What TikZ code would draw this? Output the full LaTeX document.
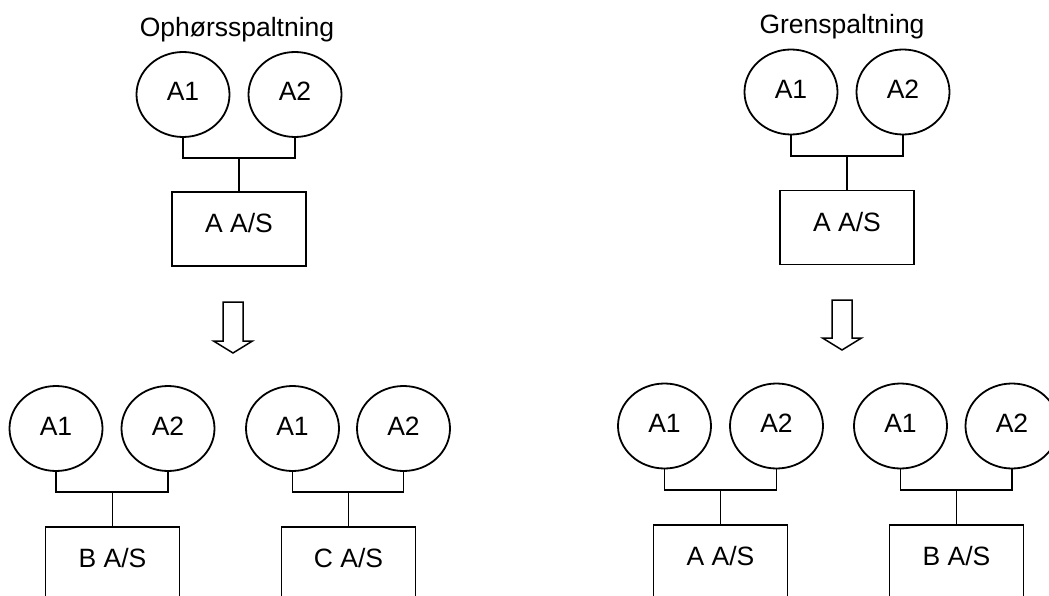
\documentclass[tikz,border=0pt]{standalone}
\usepackage{fontspec}
\setmainfont{Liberation Sans}
\usetikzlibrary{shapes.geometric}

% One ownership group: two owners (A1, A2) joined by a bus to one company box.
% #1 prefix, #2 x of A1, #3 x of A2, #4 y of owners, #5 y of bus,
% #6 x of company, #7 y of company, #8 company label
\newcommand{\ownergroup}[8]{%
  \node[owner] (#1a) at (#2,#4) {A1};
  \node[owner] (#1b) at (#3,#4) {A2};
  \node[firm]  (#1c) at (#6,#7) {#8};
  \coordinate (#1j) at (#6,#5);
  \draw[link] (#1a.south) |- (#1j) -| (#1b.south);
  \draw[link] (#1j) -- (#1c.north);
}

% Hollow block arrow pointing down.
% #1 name, #2 x of axis, #3 top of stem, #4 y of head base, #5 y of tip
\newcommand{\downarrowblock}[5]{%
  \coordinate (#1) at (#2,#3);
  \draw[blockarrow] (#1) ++(-10,0) -- (#2+10,#3) -- (#2+10,#4) -- (#2+19.5,#4)
    -- (#2,#5) -- (#2-19.5,#4) -- (#2-10,#4) -- cycle;
}

\begin{document}
\begin{tikzpicture}[x=1pt,y=-1pt,
  owner/.style={draw, ellipse, line width=1.8pt, minimum width=93pt,
    minimum height=85pt, inner sep=0pt, font=\fontsize{26.5}{31}\selectfont,
    text height=19pt, text depth=6pt},
  firm/.style={draw, rectangle, line width=1.8pt, minimum width=134pt,
    minimum height=74pt, inner sep=0pt, font=\fontsize{26.5}{31}\selectfont,
    text height=19pt, text depth=12pt},
  link/.style={line width=1.8pt},
  heading/.style={font=\fontsize{26.5}{31}\selectfont, anchor=base, inner sep=0pt},
  blockarrow/.style={draw, line width=1.5pt, line join=miter}
]
\path[use as bounding box] (0,0) rectangle (1049,596);
\clip (0,0) rectangle (1049,596);

% Left side: Ophørsspaltning
\node[heading] (tl) at (237,37) {Ophørsspaltning};
\ownergroup{L}{183}{295}{94.5}{158}{239}{229}{A A/S}
\downarrowblock{Larr}{233}{302}{341}{353}
\ownergroup{LB}{56}{168}{428.5}{492}{112.5}{564}{B A/S}
\ownergroup{LC}{292.5}{403.5}{428.5}{492}{348.5}{564}{C A/S}

% Right side: Grenspaltning
\node[heading] (tr) at (842,34) {Grenspaltning};
\ownergroup{R}{791}{903}{92}{156}{847}{227.5}{A A/S}
\downarrowblock{Rarr}{842}{300}{338}{350}
\ownergroup{RA}{664.5}{776.5}{426}{490}{720.5}{562}{A A/S}
\ownergroup{RB}{900.5}{1012}{426}{490}{956.5}{562}{B A/S}
\end{tikzpicture}
\end{document}
